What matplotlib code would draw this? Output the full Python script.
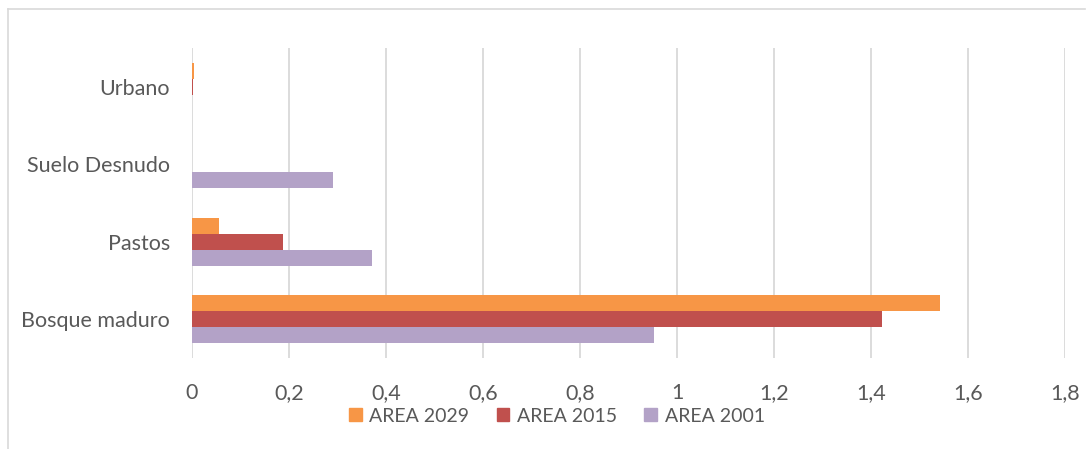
import matplotlib
matplotlib.use("Agg")
import matplotlib.pyplot as plt
import numpy as np
from matplotlib.lines import Line2D
from matplotlib.ticker import FuncFormatter

categories = ["Bosque maduro", "Pastos", "Suelo Desnudo", "Urbano"]
series_names = ["AREA 2029", "AREA 2015", "AREA 2001"]
area_2029 = [1.543, 0.056, 0.0, 0.005]
area_2015 = [1.423, 0.188, 0.0, 0.003]
area_2001 = [0.952, 0.371, 0.291, 0.0]
colors = ["#F79646", "#C0504D", "#B3A2C7"]

plt.rcParams['font.family'] = ['Lato', 'DejaVu Sans']

fig = plt.figure(figsize=(10.86, 4.49), dpi=100)
ax = fig.add_axes([0.1768, 0.2027, 0.9807 - 0.1768, 0.8931 - 0.2027])

y = np.arange(len(categories))
h = 0.206
for vals, off, c, name in zip([area_2029, area_2015, area_2001], [h, 0, -h], colors, series_names):
    ax.barh(y + off, vals, height=h, color=c, label=name, zorder=3)

ax.set_xlim(0, 1.8)
ax.set_ylim(-0.5, 3.5)
ax.set_xticks(np.arange(0, 1.81, 0.2))
ax.xaxis.set_major_formatter(FuncFormatter(lambda v, p: ("%g" % round(v, 1)).replace(".", ",")))
ax.set_yticks(y)
ax.set_yticklabels(categories)
ax.grid(axis="x", color="#D9D9D9", linewidth=1.3, zorder=0)
for s in ax.spines.values():
    s.set_visible(False)
ax.tick_params(axis="both", length=0, colors="#595959", labelsize=15.5)
ax.tick_params(axis="x", pad=18)
ax.tick_params(axis="y", pad=16)

handles = [plt.Rectangle((0, 0), 1, 1, color=c) for c in colors]
fig.legend(handles, series_names, loc="center", bbox_to_anchor=(557 / 1086, 1 - 416 / 449), ncol=3,
           frameon=False, fontsize=14, labelcolor="#595959", handlelength=0.65, handleheight=0.65,
           handletextpad=0.4, columnspacing=1.4, borderpad=0)

fig.add_artist(Line2D([8 / 1086, 8 / 1086], [0, 1 - 9 / 449], color="#D9D9D9", linewidth=1.2, transform=fig.transFigure))
fig.add_artist(Line2D([8 / 1086, 1085 / 1086], [1 - 9 / 449, 1 - 9 / 449], color="#D9D9D9", linewidth=1.2, transform=fig.transFigure))

fig.savefig("out.png", dpi=100)
